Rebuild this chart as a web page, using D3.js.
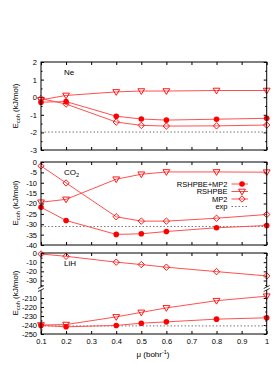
<!DOCTYPE html>
<html>
<head>
<meta charset="utf-8">
<script src="https://cdn.jsdelivr.net/npm/d3@7"></script>
<style>
  body { margin: 0; background: #fff; }
  svg { display: block; font-family: "Liberation Sans", Arial, sans-serif; }
</style>
</head>
<body>
<div id="chart-area"></div>
<script>
// mu values (bohr^-1)
var mu = [0.1, 0.2, 0.4, 0.5, 0.6, 0.8, 1.0];
var xTicks = [0.1, 0.2, 0.3, 0.4, 0.5, 0.6, 0.7, 0.8, 0.9, 1];

// Ne
var neRshMp2 = [-0.28, -0.25, -1.08, -1.24, -1.3, -1.25, -1.2];
var neRsh    = [-0.15, 0.1, 0.3, 0.35, 0.35, 0.38, 0.38];
var neMp2    = [-0.08, -0.39, -1.41, -1.6, -1.64, -1.63, -1.58];
var neExp = -1.98;

// CO2
var co2RshMp2 = [-21.8, -28.2, -34.9, -34.6, -33.5, -31.7, -30.6];
var co2Rsh    = [-19.4, -18, -8.3, -5.9, -4.8, -4.8, -4.9];
var co2Mp2    = [-1.9, -10.1, -26.4, -28.5, -28.5, -27.1, -25.3];
var co2Exp = -31.1;

// LiH
var lihRshMp2 = [-240.5, -242, -240.5, -238, -236.5, -233.5, -232];
var lihRsh    = [-240, -239.5, -231, -226, -221, -213, -208];
var lihMp2    = [-1.1, -3.6, -10, -12.6, -15.5, -20.3, -25];
var lihExp = -241;

var legendNames = ["RSHPBE+MP2", "RSHPBE", "MP2", "exp"];

var W = 275, H = 365;
var left = 41, right = 266.7;
var red = "#ff0000", lineRed = "#ff5050", expCol = "#777";
var fmt = d => String(d);

var svg = d3.select("#chart-area").append("svg")
    .attr("width", W).attr("height", H);

var x = d3.scaleLinear().domain([0.1, 1]).range([left, right]);

function marker(g, type, px, py) {
    if (type == 0) {
        g.append("circle").attr("cx", px).attr("cy", py).attr("r", 2.8)
            .attr("fill", red);
    } else if (type == 1) {
        g.append("path")
            .attr("d", "M" + (px - 3.4) + "," + (py - 2.3) + "L" + (px + 3.4) + "," + (py - 2.3) + "L" + px + "," + (py + 3.4) + "Z")
            .attr("fill", "none").attr("stroke", red).attr("stroke-width", 0.9);
    } else {
        g.append("path")
            .attr("d", "M" + px + "," + (py - 3.2) + "L" + (px + 3.2) + "," + py + "L" + px + "," + (py + 3.2) + "L" + (px - 3.2) + "," + py + "Z")
            .attr("fill", "none").attr("stroke", red).attr("stroke-width", 0.9);
    }
}

function series(g, vals, yf, type) {
    var line = d3.line().x((d, i) => x(mu[i])).y(d => yf(d));
    g.append("path").attr("d", line(vals))
        .attr("fill", "none").attr("stroke", lineRed).attr("stroke-width", 1);
    vals.forEach((v, i) => marker(g, type, x(mu[i]), yf(v)));
}

function xAxes(g, top, bottom, labels) {
    g.append("g").attr("transform", "translate(0," + bottom + ")")
        .call(d3.axisBottom(x).tickValues(xTicks).tickSizeInner(-3).tickSizeOuter(0)
            .tickPadding(5).tickFormat(labels ? fmt : ""));
    g.append("g").attr("transform", "translate(0," + top + ")")
        .call(d3.axisTop(x).tickValues(xTicks).tickSizeInner(-3).tickSizeOuter(0).tickFormat(""));
}

function yAxes(g, yScale, major, minor) {
    g.append("g").attr("transform", "translate(" + left + ",0)")
        .call(d3.axisLeft(yScale).tickValues(major).tickSizeInner(-3).tickSizeOuter(0).tickPadding(4).tickFormat(fmt));
    g.append("g").attr("transform", "translate(" + right + ",0)")
        .call(d3.axisRight(yScale).tickValues(major).tickSizeInner(-3).tickSizeOuter(0).tickFormat(""));
    if (minor) {
        g.append("g").attr("transform", "translate(" + left + ",0)")
            .call(d3.axisLeft(yScale).tickValues(minor).tickSizeInner(-1.5).tickSizeOuter(0).tickFormat(""));
        g.append("g").attr("transform", "translate(" + right + ",0)")
            .call(d3.axisRight(yScale).tickValues(minor).tickSizeInner(-1.5).tickSizeOuter(0).tickFormat(""));
    }
}

function yTitle(g, cy) {
    var t = g.append("text").attr("transform", "translate(18," + cy + ") rotate(-90)")
        .attr("text-anchor", "middle").attr("font-size", 8).attr("fill", "#000");
    t.append("tspan").text("E");
    t.append("tspan").attr("font-size", 5.5).attr("dy", 2).text("coh");
    t.append("tspan").attr("dy", -2).text(" (kJ/mol)");
}

function expLine(g, yv) {
    g.append("line").attr("x1", left).attr("x2", right).attr("y1", yv).attr("y2", yv)
        .attr("stroke", expCol).attr("stroke-width", 1).attr("stroke-dasharray", "1.5,2");
}

function frame(g, top, bottom) {
    g.append("rect").attr("x", left).attr("y", top).attr("width", right - left)
        .attr("height", bottom - top).attr("fill", "none").attr("stroke", "#000").attr("stroke-width", 1);
}

function styleAxes(g) {
    g.selectAll(".domain").remove();
    g.selectAll(".tick line").attr("stroke", "#000");
    g.selectAll(".tick text").attr("font-size", 7.5).attr("fill", "#000")
        .attr("font-family", "Liberation Sans, Arial, sans-serif");
}

// ---- panel 1: Ne
var p1 = svg.append("g");
var y1 = d3.scaleLinear().domain([2, -3]).range([62, 150]);
yAxes(p1, y1, [2, 1, 0, -1, -2, -3], [1.5, 0.5, -0.5, -1.5, -2.5]);
xAxes(p1, 62, 150, false);
styleAxes(p1);
expLine(p1, y1(neExp));
series(p1, neRsh, y1, 1);
series(p1, neMp2, y1, 2);
series(p1, neRshMp2, y1, 0);
frame(p1, 62, 150);
p1.append("text").attr("x", 64).attr("y", 74.5).attr("font-size", 8).text("Ne");
yTitle(p1, 106);

// ---- panel 2: CO2
var p2 = svg.append("g");
var y2 = d3.scaleLinear().domain([0, -40]).range([162, 245]);
yAxes(p2, y2, d3.range(0, -41, -5), null);
xAxes(p2, 162, 245, false);
styleAxes(p2);
expLine(p2, y2(co2Exp));
series(p2, co2Rsh, y2, 1);
series(p2, co2Mp2, y2, 2);
series(p2, co2RshMp2, y2, 0);
frame(p2, 162, 245);
var co2 = p2.append("text").attr("x", 64).attr("y", 174.5).attr("font-size", 8);
co2.append("tspan").text("CO");
co2.append("tspan").attr("font-size", 5.5).attr("dy", 2).text("2");
yTitle(p2, 203);

// legend
var lg = p2.append("g");
legendNames.forEach(function(name, i) {
    var ly = 184 + i * 7.5;
    lg.append("text").attr("x", 227.5).attr("y", ly + 2.6).attr("text-anchor", "end")
        .attr("font-size", 7.5).text(name);
    if (i < 3) {
        lg.append("line").attr("x1", 231.5).attr("x2", 248).attr("y1", ly).attr("y2", ly)
            .attr("stroke", lineRed).attr("stroke-width", 1);
        marker(lg, i, 242, ly);
    } else {
        lg.append("line").attr("x1", 231.5).attr("x2", 248).attr("y1", ly).attr("y2", ly)
            .attr("stroke", expCol).attr("stroke-width", 1).attr("stroke-dasharray", "1.5,2");
    }
});

// ---- panel 3: LiH (broken axis)
var p3 = svg.append("g");
var brk = 288.5;
var y3a = d3.scaleLinear().domain([0, -30]).range([253, 280.5]);
var y3b = d3.scaleLinear().domain([-210, -250]).range([298, 334]);
var y3 = v => (v > -100 ? y3a(v) : y3b(v));
yAxes(p3, y3a, [0, -10, -20, -30], [-5, -15, -25, -35]);
yAxes(p3, y3b, [-210, -220, -230, -240, -250], [-215, -225, -235, -245]);
xAxes(p3, 253, 334, true);
styleAxes(p3);
expLine(p3, y3(lihExp));
series(p3, lihMp2, y3, 2);
series(p3, lihRsh, y3, 1);
series(p3, lihRshMp2, y3, 0);
frame(p3, 253, 334);
// axis break marks
[left, right].forEach(function(ax) {
    p3.append("rect").attr("x", ax - 2).attr("y", brk - 1.5).attr("width", 4).attr("height", 3).attr("fill", "#fff");
    [-1.5, 1.5].forEach(function(o) {
        p3.append("line").attr("x1", ax - 3).attr("x2", ax + 3)
            .attr("y1", brk + o + 1.5).attr("y2", brk + o - 1.5)
            .attr("stroke", "#000").attr("stroke-width", 0.8);
    });
});
p3.append("text").attr("x", 64).attr("y", 266).attr("font-size", 8).text("LiH");
yTitle(p3, 293);

// x title
var xt = svg.append("text").attr("x", 153).attr("y", 357).attr("text-anchor", "middle").attr("font-size", 8);
xt.append("tspan").text("\u03bc (bohr");
xt.append("tspan").attr("font-size", 5.5).attr("dy", -3).text("-1");
xt.append("tspan").attr("dy", 3).text(")");
</script>
</body>
</html>
